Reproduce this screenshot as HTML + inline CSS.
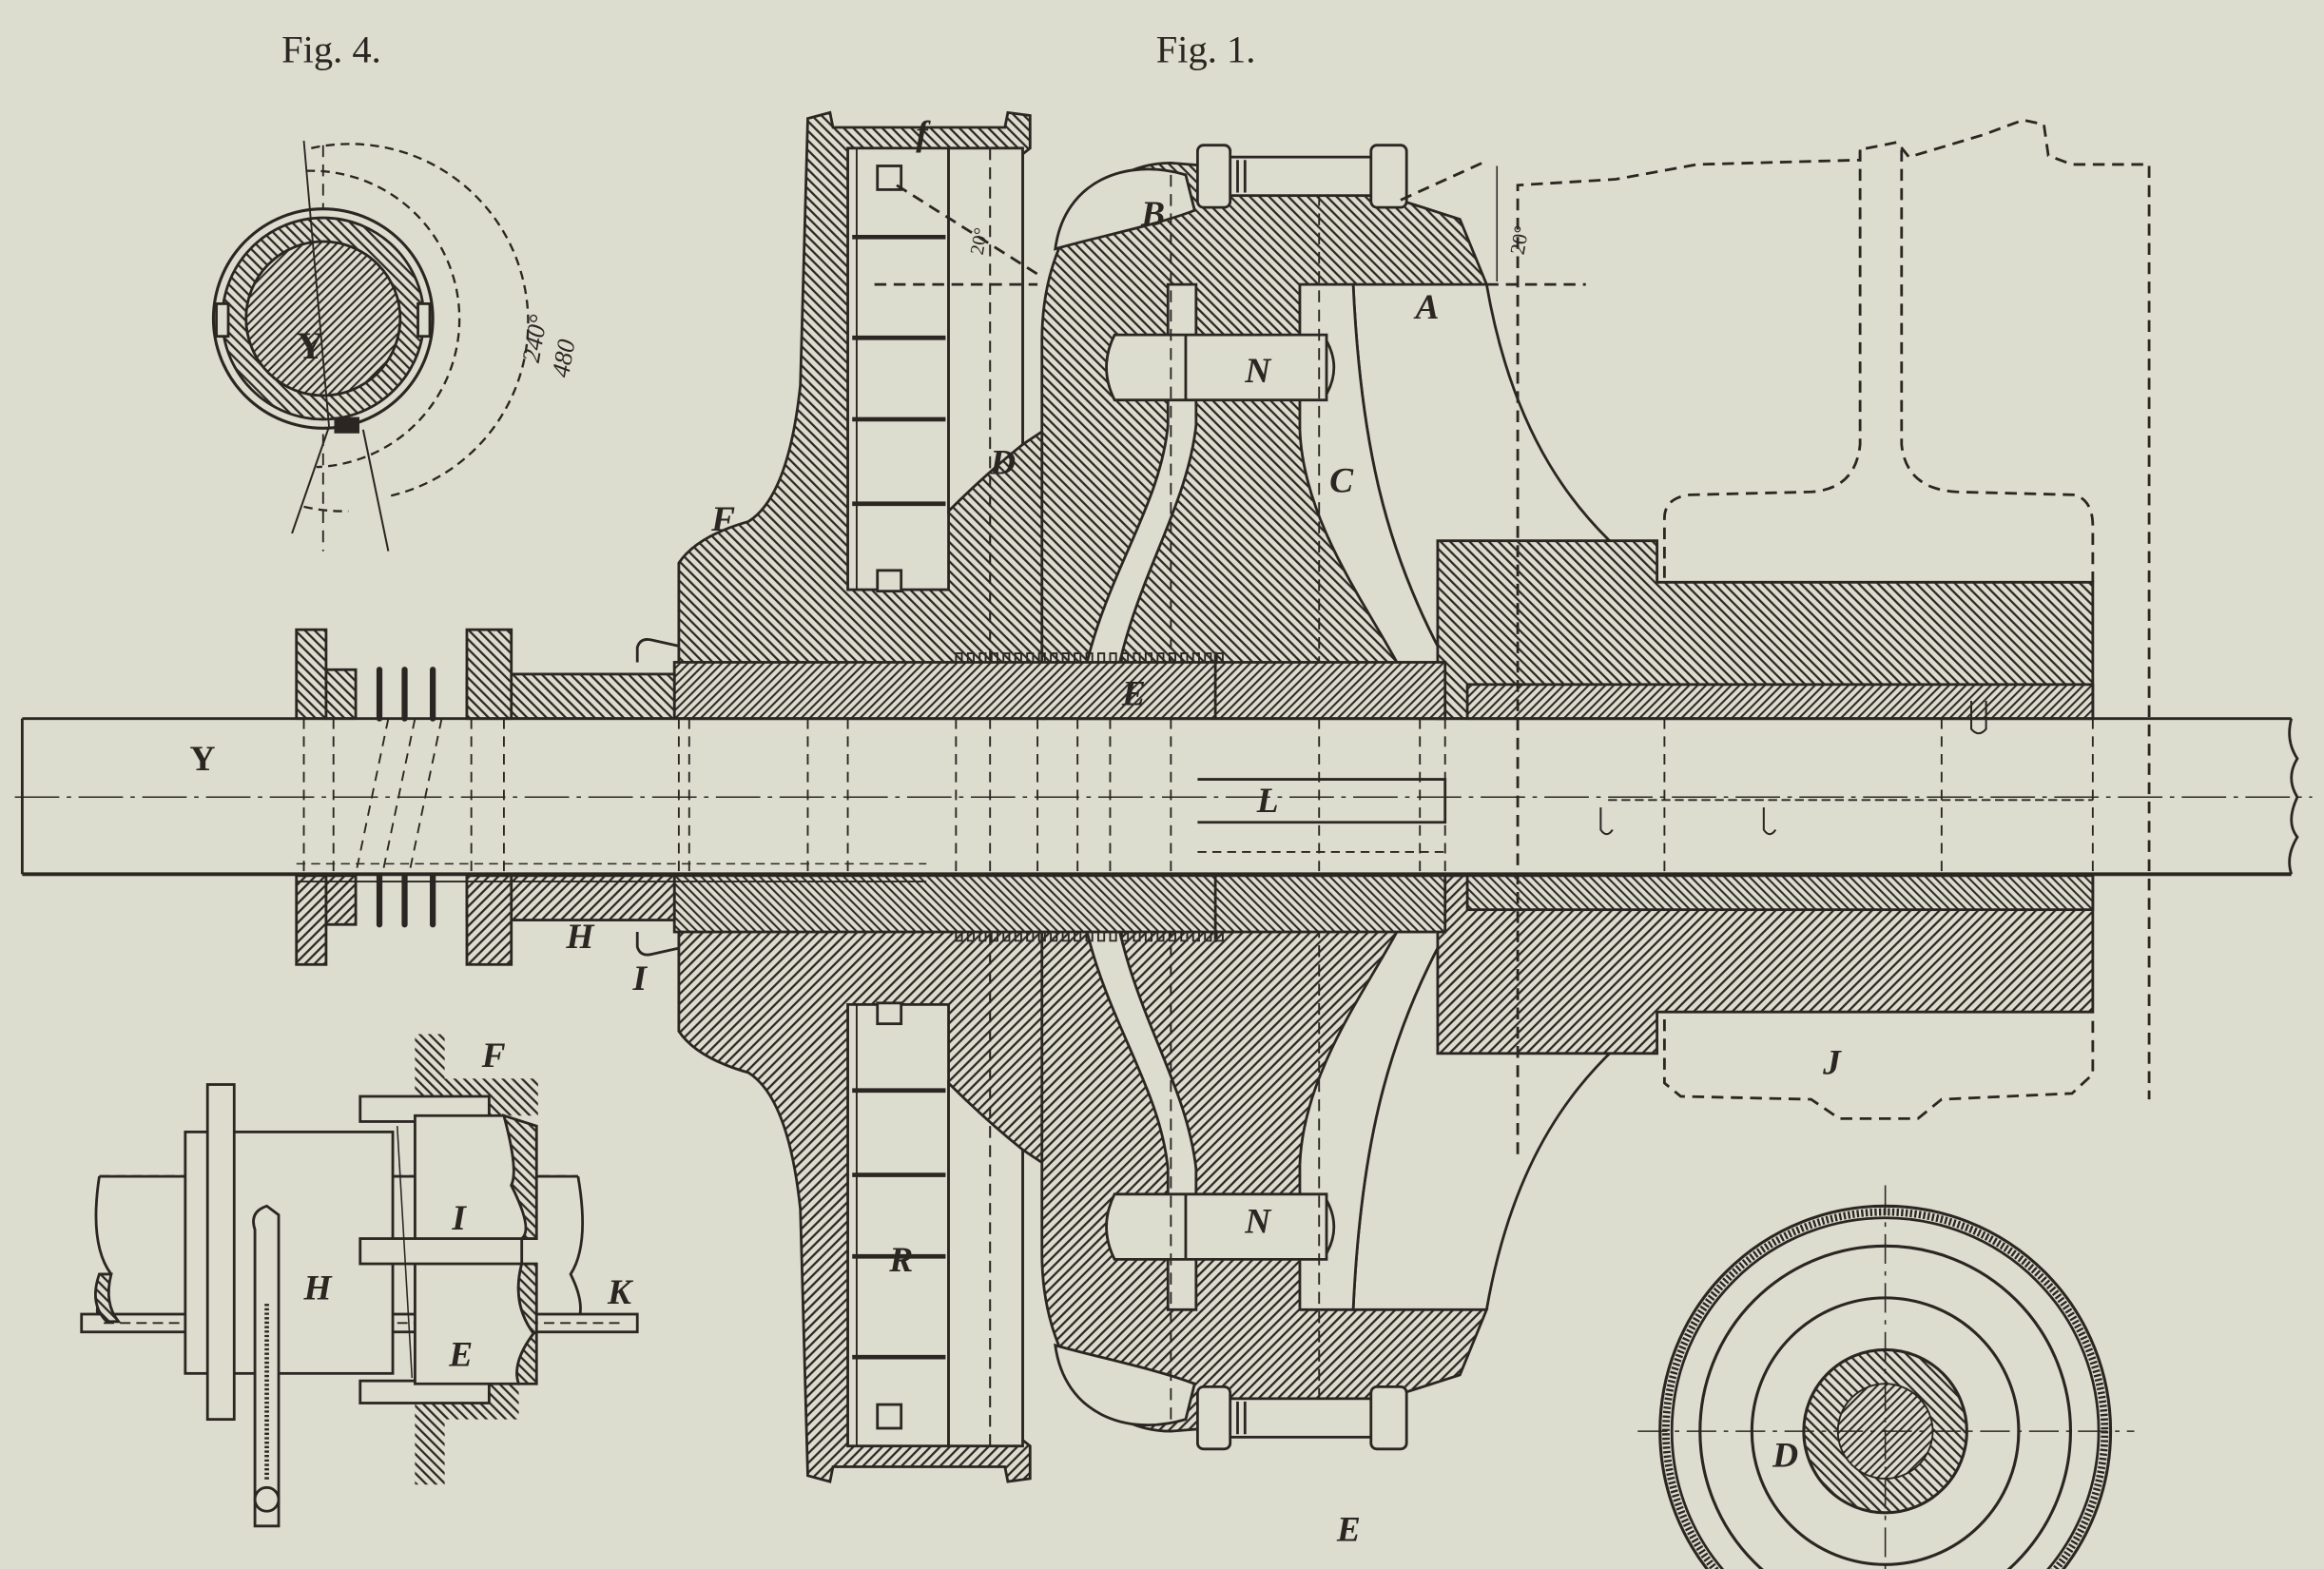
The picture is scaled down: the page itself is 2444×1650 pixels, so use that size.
<!DOCTYPE html>
<html><head><meta charset="utf-8"><style>
html,body{margin:0;padding:0;background:#dcdccf;width:2444px;height:1650px;overflow:hidden}
svg{display:block}
text{font-family:"Liberation Serif",serif;fill:#2b2622}
.l{font-style:italic;font-weight:bold;font-size:24px}
</style></head><body>
<svg width="2444" height="1650" viewBox="0 0 1568 1059" preserveAspectRatio="none" overflow="hidden" xmlns="http://www.w3.org/2000/svg">
<defs>
<clipPath id="frame"><rect x="0" y="0" width="1568" height="1059"/></clipPath>
<pattern id="h" width="4.6" height="4.6" patternUnits="userSpaceOnUse" patternTransform="rotate(-45)"><rect width="4.6" height="4.6" fill="#dcdccf"/><line x1="1" y1="0" x2="1" y2="4.6" stroke="#2b2622" stroke-width="1.45"/></pattern>
<pattern id="h2" width="4" height="4" patternUnits="userSpaceOnUse" patternTransform="rotate(45)"><rect width="4" height="4" fill="#dcdccf"/><line x1="1" y1="0" x2="1" y2="4" stroke="#2b2622" stroke-width="1.3"/></pattern>
<g id="half" stroke="#2b2622" stroke-width="1.8" fill="none">
  <path d="M458,485 L458,380 Q470,362 505,352 Q532,335 540,260 L545,80 L560,76 L562,86 L678,86 L680,76 L695,78 L695,100 L690,104 L690,300 L705,290 L705,485 Z" fill="url(#h)"/>
  <rect x="572" y="100" width="68" height="298" fill="#dcdccf"/>
  <path d="M640,100 L690,100 L690,300 Q665,320 640,345 Z" fill="#dcdccf"/>
  <g stroke-width="3"><line x1="575" y1="160" x2="638" y2="160"/><line x1="575" y1="228" x2="638" y2="228"/><line x1="575" y1="283" x2="638" y2="283"/><line x1="575" y1="340" x2="638" y2="340"/></g>
  <rect x="592" y="112" width="16" height="16" fill="#dcdccf"/>
  <rect x="592" y="385" width="16" height="14" fill="#dcdccf"/>
  <line x1="668" y1="100" x2="668" y2="485" stroke-dasharray="8,5" stroke-width="1.3"/>
  <line x1="578" y1="100" x2="578" y2="398" stroke-width="1.2"/>
  <path d="M703,485 L703,230 C703,160 740,110 790,110 L890,118 L960,140 L985,148 L1003,192 L913,192 C918,300 935,370 972,440 L975,485 Z" fill="url(#h)"/>
  <path d="M712,168 C718,122 760,106 800,118 L806,142 C780,152 740,160 712,168 Z" fill="#dcdccf"/>
  <path d="M788,192 L807,192 L807,287 C800,350 758,400 749,485 L727,485 C735,400 782,350 788,287 Z" fill="#dcdccf"/>
  <path d="M877,192 L913,192 C918,300 935,370 972,440 L975,485 L958,485 C950,440 880,370 877,290 Z" fill="#dcdccf"/>
  <path d="M752,226 L895,226 L895,270 L752,270 Q741,248 752,226 Z" fill="#dcdccf"/>
  <line x1="800" y1="226" x2="800" y2="270"/>
  <path d="M895,230 Q905,248 895,266" />
  <line x1="790" y1="118" x2="790" y2="485" stroke-dasharray="8,5" stroke-width="1.2"/>
  <line x1="890" y1="118" x2="890" y2="485" stroke-dasharray="8,5" stroke-width="1.2"/>
  <rect x="812" y="106" width="120" height="26" fill="#dcdccf"/>
  <rect x="808" y="98" width="22" height="42" rx="4" fill="#dcdccf"/>
  <rect x="925" y="98" width="24" height="42" rx="4" fill="#dcdccf"/>
  <line x1="835" y1="108" x2="835" y2="130"/><line x1="840" y1="108" x2="840" y2="130"/>
  <path d="M1003,192 C1020,290 1060,350 1118,392"/>
  <path d="M970,485 L970,365 L1118,365 L1118,393 L1412,393 L1412,485 Z" fill="url(#h)"/>
  <rect x="990" y="462" width="422" height="23" fill="url(#h2)"/>
  <rect x="455" y="447" width="520" height="38" fill="url(#h2)"/>
  <path d="M645,447 l0,-6 l4,0 l0,6 l4,0 l0,-6 l4,0 l0,6 l4,0 l0,-6 l4,0 l0,6 l4,0 l0,-6 l4,0 l0,6 l4,0 l0,-6 l4,0 l0,6 l4,0 l0,-6 l4,0 l0,6 l4,0 l0,-6 l4,0 l0,6 l4,0 l0,-6 l4,0 l0,6 l4,0 l0,-6 l4,0 l0,6 l4,0 l0,-6 l4,0 l0,6 l4,0 l0,-6 l4,0 l0,6 l4,0 l0,-6 l4,0 l0,6 l4,0 l0,-6 l4,0 l0,6 l4,0 l0,-6 l4,0 l0,6 l4,0 l0,-6 l4,0 l0,6 l4,0 l0,-6 l4,0 l0,6 l4,0 l0,-6 l4,0 l0,6 l4,0 l0,-6 l4,0 l0,6 l4,0 l0,-6 l4,0 l0,6 l4,0 l0,-6 l4,0 l0,6 l4,0 l0,-6 l4,0 l0,6 l4,0 l0,-6 l4,0 l0,6 l4,0 l0,-6 l4,0 l0,6" stroke-width="1.2"/>
  <line x1="820" y1="440" x2="820" y2="485"/>
  <rect x="315" y="455" width="140" height="30" fill="url(#h)"/>
  <rect x="315" y="425" width="30" height="60" fill="url(#h)"/>
  <rect x="200" y="425" width="20" height="60" fill="url(#h)"/>
  <rect x="220" y="452" width="20" height="33" fill="url(#h)"/>
  <path d="M430,447 L430,437 Q432,430 440,432 L458,436"/>
  <g stroke-width="4" stroke-linecap="round"><line x1="256" y1="452" x2="256" y2="485"/><line x1="273" y1="452" x2="273" y2="485"/><line x1="292" y1="452" x2="292" y2="485"/></g>
</g>
</defs>
<g clip-path="url(#frame)">
<rect width="1568" height="1059" fill="#dcdccf"/>
<use href="#half"/>
<use href="#half" transform="translate(0,1076) scale(1,-1)"/>
<g stroke="#2b2622" fill="none" stroke-width="1.8">
  <line x1="15" y1="485" x2="1546" y2="485"/>
  <line x1="15" y1="590" x2="1546" y2="590" stroke-width="2.5"/>
  <line x1="15" y1="485" x2="15" y2="590"/>
  <path d="M1546,485 Q1542,500 1550,512 Q1542,525 1550,538 Q1542,555 1550,565 Q1542,578 1546,590"/>
  <line x1="10" y1="538" x2="1560" y2="538" stroke-width="1" stroke-dasharray="30,5,3,5"/>
  <line x1="200" y1="595" x2="625" y2="595" stroke-width="1.2"/>
  <line x1="200" y1="583" x2="625" y2="583" stroke-width="1" stroke-dasharray="6,4"/>
  <g stroke-dasharray="7,5" stroke-width="1.2">
    <line x1="205" y1="485" x2="205" y2="590"/><line x1="225" y1="485" x2="225" y2="590"/>
    <line x1="262" y1="485" x2="240" y2="590"/><line x1="280" y1="485" x2="258" y2="590"/><line x1="298" y1="485" x2="276" y2="590"/>
    <line x1="318" y1="485" x2="318" y2="590"/><line x1="340" y1="485" x2="340" y2="590"/>
    <line x1="458" y1="485" x2="458" y2="590"/><line x1="465" y1="485" x2="465" y2="590"/>
    <line x1="545" y1="485" x2="545" y2="590"/><line x1="572" y1="485" x2="572" y2="590"/>
    <line x1="645" y1="485" x2="645" y2="590"/><line x1="668" y1="485" x2="668" y2="590"/>
    <line x1="700" y1="485" x2="700" y2="590"/><line x1="727" y1="485" x2="727" y2="590"/>
    <line x1="749" y1="485" x2="749" y2="590"/><line x1="790" y1="485" x2="790" y2="590"/>
    <line x1="890" y1="485" x2="890" y2="590"/><line x1="958" y1="485" x2="958" y2="590"/>
    <line x1="975" y1="485" x2="975" y2="590"/><line x1="1123" y1="485" x2="1123" y2="590"/>
    <line x1="1310" y1="485" x2="1310" y2="590"/><line x1="1412" y1="485" x2="1412" y2="590"/>
  </g>
  <path d="M808,526 L975,526 L975,555 L808,555"/>
  <line x1="808" y1="575" x2="975" y2="575" stroke-dasharray="6,4" stroke-width="1.2"/>
  <path d="M1080,545 L1080,560 Q1084,566 1088,560 M1190,545 L1190,560 Q1194,566 1198,560" stroke-width="1.3"/>
  <line x1="1085" y1="540" x2="1412" y2="540" stroke-dasharray="6,3" stroke-width="1.2"/>
  <path d="M1330,473 L1330,492 Q1335,498 1340,492 L1340,473" stroke-width="1.3"/>
  <g stroke-dasharray="8,5" stroke-width="1.8">
    <path d="M1003,192 L1070,192"/>
    <path d="M945,135 L1000,110"/>
    <path d="M1024,779 L1024,125 L1090,121 L1145,111 L1255,108 L1255,101 L1280,96 L1288,106 L1338,91 L1365,81 L1379,84 L1382,105 L1398,111 L1450,111 L1450,742"/>
    <path d="M1255,101 L1255,300 Q1252,330 1222,332 L1140,334 Q1123,336 1123,350 L1123,393"/>
    <path d="M1283,101 L1283,300 Q1286,330 1320,332 L1400,334 Q1412,338 1412,355 L1412,393"/>
    <path d="M1123,688 L1123,731 L1134,740 L1222,742 L1241,755 L1294,755 L1310,742 L1398,738 L1412,725 L1412,688"/>
    <path d="M605,125 L700,185"/>
    <path d="M590,192 L700,192"/>
  </g>
  <path d="M1010,112 L1010,190" stroke-width="1"/>
  <path d="M640,135 L640,190" stroke-width="1"/>
  <line x1="218" y1="98" x2="218" y2="372" stroke-dasharray="8,5" stroke-width="1.2"/>
  <circle cx="218" cy="215" r="74" fill="#dcdccf" stroke-width="2"/>
  <circle cx="218" cy="215" r="68" fill="url(#h)"/>
  <circle cx="218" cy="215" r="52" fill="url(#h2)"/>
  <rect x="146" y="205" width="8" height="22" fill="#dcdccf"/>
  <rect x="282" y="205" width="8" height="22" fill="#dcdccf"/>
  <rect x="226" y="282" width="16" height="10" fill="#2b2622" stroke-width="1"/>
  <line x1="205" y1="95" x2="222" y2="288" stroke-width="1.2"/>
  <line x1="222" y1="288" x2="197" y2="360" stroke-width="1.3"/>
  <line x1="245" y1="290" x2="262" y2="372" stroke-width="1.3"/>
  <path d="M210,115 A100,100 0 0 1 210,315" stroke-dasharray="6,4" stroke-width="1.5" transform="rotate(-2,218,215)"/>
  <path d="M210,100 A118,118 0 0 1 262,335" stroke-dasharray="6,4" stroke-width="1.5"/>
  <path d="M205,342 A118,118 0 0 0 235,345" stroke-dasharray="6,4" stroke-width="1.5"/>
  <path d="M67,794 L390,794 M67,892 L390,892 M67,794 Q60,840 75,860 Q62,880 67,892 M390,794 Q398,840 385,860 Q395,880 390,892"/>
  <line x1="67" y1="794" x2="390" y2="794" stroke-dasharray="7,4"/>
  <rect x="55" y="887" width="375" height="12" fill="#dcdccf"/>
  <line x1="70" y1="893" x2="420" y2="893" stroke-dasharray="7,4" stroke-width="1.2"/>
  <rect x="125" y="764" width="140" height="163" fill="#dcdccf"/>
  <rect x="140" y="732" width="18" height="226" fill="#dcdccf"/>
  <path d="M280,698 L300,698 L300,1002 L280,1002 Z" fill="url(#h)" stroke="none"/>
  <rect x="280" y="728" width="83" height="25" fill="url(#h)" stroke="none"/>
  <rect x="280" y="934" width="70" height="24" fill="url(#h)" stroke="none"/>
  <rect x="243" y="740" width="87" height="17" fill="#dcdccf"/>
  <rect x="243" y="932" width="87" height="15" fill="#dcdccf"/>
  <path d="M280,753 L340,753 Q350,790 345,800 Q360,830 352,836 L352,853 Q345,880 360,900 Q345,920 350,934 L280,934 Z" fill="#dcdccf"/>
  <path d="M340,753 Q350,790 345,800 Q360,830 352,836 L362,836 L362,760 Z" fill="url(#h)"/>
  <path d="M352,853 Q345,880 360,900 Q345,920 350,934 L362,934 L362,853 Z" fill="url(#h)"/>
  <path d="M67,860 Q60,880 72,892 L80,892 Q70,880 75,860 Z" fill="url(#h)"/>
  <rect x="243" y="836" width="109" height="17" fill="#dcdccf"/>
  <line x1="268" y1="760" x2="278" y2="930" stroke-width="1"/>
  <path d="M172,1030 L172,830 Q168,818 180,814 L188,820 L188,1030 Z" fill="#dcdccf"/>
  <circle cx="180" cy="1012" r="8" fill="#dcdccf"/>
  <line x1="180" y1="880" x2="180" y2="1000" stroke-width="3" stroke-dasharray="1.5,1.5"/>
  <circle cx="1272" cy="966" r="152" stroke-width="2"/>
  <circle cx="1272" cy="966" r="148" stroke="#2b2622" stroke-width="5" stroke-dasharray="1.5,1.5"/>
  <circle cx="1272" cy="966" r="144" stroke-width="1.8"/>
  <circle cx="1272" cy="966" r="125" stroke-width="2"/>
  <circle cx="1272" cy="966" r="90" stroke-width="2"/>
  <circle cx="1272" cy="966" r="55" fill="url(#h)" stroke-width="2"/>
  <circle cx="1272" cy="966" r="32" fill="url(#h2)" stroke-width="1.2"/>
  <line x1="1105" y1="966" x2="1440" y2="966" stroke-width="1" stroke-dasharray="20,5,3,5"/>
  <line x1="1272" y1="800" x2="1272" y2="1059" stroke-width="1" stroke-dasharray="20,5,3,5"/>
</g>
<text x="190" y="42" font-size="26">Fig. 4.</text>
<text x="780" y="42" font-size="26">Fig. 1.</text>
<text class="l" x="618" y="98" font-size="20">f</text>
<text class="l" x="770" y="152">B</text>
<text class="l" x="955" y="215">A</text>
<text class="l" x="840" y="258">N</text>
<text class="l" x="840" y="832">N</text>
<text class="l" x="668" y="320">D</text>
<text class="l" x="897" y="332">C</text>
<text class="l" x="480" y="358">F</text>
<text class="l" x="757" y="476" font-size="20">E</text>
<text class="l" x="848" y="548">L</text>
<text x="128" y="520" font-size="24" font-weight="bold">Y</text>
<text x="200" y="242" font-size="26" font-weight="bold">Y</text>
<text class="l" x="382" y="640">H</text>
<text class="l" x="427" y="668">I</text>
<text class="l" x="600" y="858">R</text>
<text class="l" x="1230" y="725">J</text>
<text class="l" x="902" y="1040" font-size="30">E</text>
<text class="l" x="1196" y="990" font-size="20">D</text>
<text class="l" x="325" y="720">F</text>
<text class="l" x="305" y="830">I</text>
<text class="l" x="303" y="922">E</text>
<text class="l" x="205" y="877">H</text>
<text class="l" x="410" y="880">K</text>
<text x="1005" y="175" font-size="14" transform="rotate(-80,1015,160)">20°</text>
<text x="640" y="175" font-size="13" transform="rotate(-80,650,160)">20°</text>
<text x="338" y="255" font-size="17" font-style="italic" transform="rotate(-80,345,235)">240°</text>
<text x="358" y="265" font-size="17" font-style="italic" transform="rotate(-80,365,245)">480</text>
</g>
</svg>
</body></html>
